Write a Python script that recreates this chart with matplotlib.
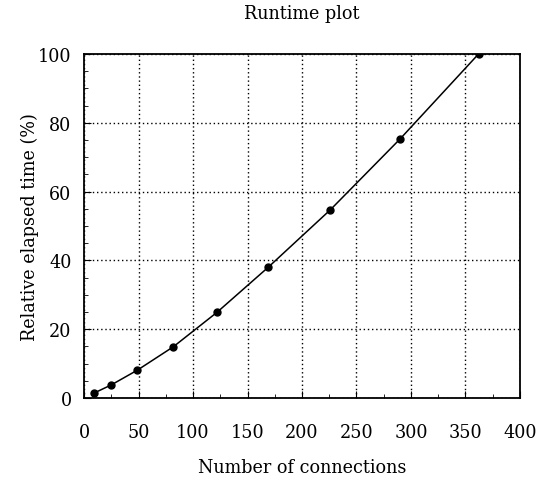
import matplotlib
matplotlib.use("Agg")
import matplotlib.pyplot as plt
from matplotlib.ticker import MultipleLocator

plt.rcParams['font.family'] = ['DejaVu Serif', 'DejaVu Sans']
plt.rcParams['font.stretch'] = 'condensed'

connections = [9, 25, 49, 82, 122, 169, 226, 290, 362]
elapsed = [1.4, 3.8, 8.1, 14.9, 24.9, 38.0, 54.7, 75.3, 100.0]

fig = plt.figure(figsize=(5.47, 4.81), dpi=100)
ax = fig.add_axes([0.1536, 0.1705, 0.797, 0.7152])

ax.plot(connections, elapsed, color='black', linewidth=1.1, marker='o',
        markersize=5, markerfacecolor='black', zorder=3)

ax.set_xlim(0, 400)
ax.set_ylim(0, 100)
ax.xaxis.set_major_locator(MultipleLocator(50))
ax.xaxis.set_minor_locator(MultipleLocator(25))
ax.yaxis.set_major_locator(MultipleLocator(20))
ax.yaxis.set_minor_locator(MultipleLocator(5))
ax.tick_params(which='both', direction='in', top=False, right=False)
ax.tick_params(which='major', length=5, labelsize=14)
ax.tick_params(axis='x', which='major', pad=18)
ax.tick_params(axis='y', which='major', pad=9)
ax.tick_params(which='minor', length=3)
ax.grid(True, which='major', linestyle=(0, (1, 2)), color='black', linewidth=1.0)
for s in ax.spines.values():
    s.set_linewidth(1.3)

ax.set_title('Runtime plot', fontsize=14, pad=26)
ax.set_xlabel('Number of connections', fontsize=14, labelpad=12)
ax.set_ylabel('Relative elapsed time (%)', fontsize=14, labelpad=-1)

fig.savefig('out.png', dpi=100)
